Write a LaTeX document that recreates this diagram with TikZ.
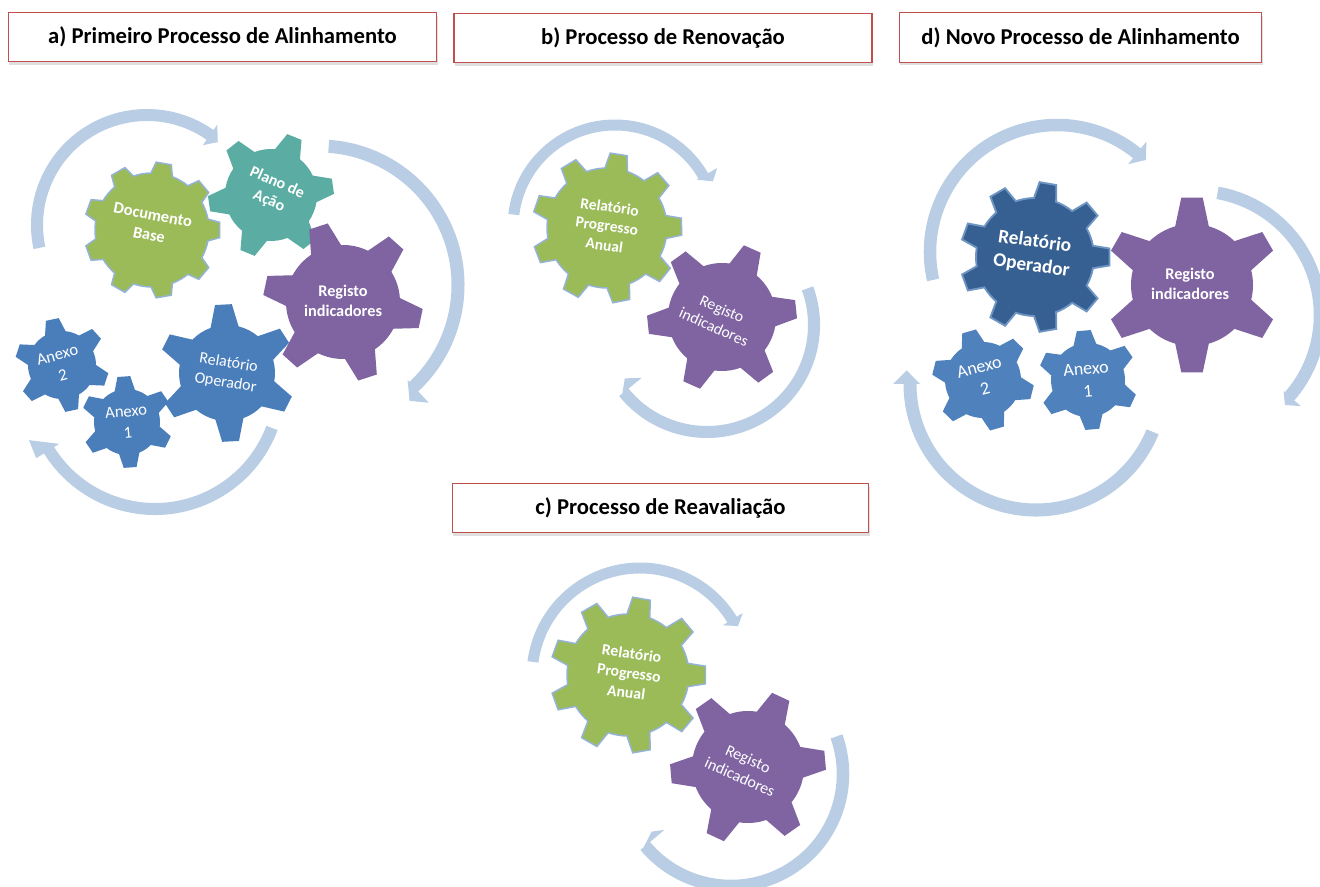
\documentclass[tikz,border=0pt]{standalone}
\usepackage{fontspec}
\setmainfont{Carlito}
\usetikzlibrary{shadows}
\definecolor{arcblue}{HTML}{B9CDE5}
\definecolor{gearGreen}{HTML}{9BBB59}
\definecolor{gearEdge}{HTML}{95B3D7}
\definecolor{gearTeal}{HTML}{5BADA3}
\definecolor{gearPurple}{HTML}{8064A2}
\definecolor{gearBlue}{HTML}{4A7EBB}
\definecolor{gearBlueB}{HTML}{4F81BD}
\definecolor{gearDark}{HTML}{376092}
\definecolor{gearDarkEdge}{HTML}{6F95C2}
\definecolor{titleEdge}{HTML}{C0504D}
% #1 style, #2 cx, #3 cy(px from top), #4 R, #5 r, #6 teeth, #7 rotation, #8 tip half angle, #9 root half angle
\newcommand{\gearshape}[9]{%
  \path[#1] ({#2+#5*cos(#7-#9)},{886-#3+#5*sin(#7-#9)})
  \foreach \k [evaluate=\k as \a using {#7+(\k-1)*360/#6}] in {1,...,#6}{
    -- ({#2+#4*cos(\a-#8)},{886-#3+#4*sin(\a-#8)})
    -- ({#2+#4*cos(\a+#8)},{886-#3+#4*sin(\a+#8)})
    -- ({#2+#5*cos(\a+#9)},{886-#3+#5*sin(\a+#9)})
    arc[start angle={\a+#9},end angle={\a+360/#6-#9},radius={#5*0.75pt}]
  } -- cycle;}
% #1 centre, #2 R, #3 w, #4 start, #5 end, #6 barb in, #7 barb out, #8 tip r, #9 tip angle
\newcommand{\carc}[9]{%
  \begin{scope}[shift={#1}]
  \fill[arcblue] ({#4}:{#2+#3/2}) arc[start angle=#4,end angle=#5,radius={(#2+#3/2)*0.75pt}]
    -- ({#5}:{#7}) -- ({#9}:{#8}) -- ({#5}:{#6}) -- ({#5}:{#2-#3/2})
    arc[start angle=#5,end angle=#4,radius={(#2-#3/2)*0.75pt}] -- cycle;
  \end{scope}}
\tikzset{
  titlebox/.style={draw=titleEdge,line width=0.9pt,fill=white,minimum height=37pt,inner sep=0pt,
    font=\fontsize{17pt}{20pt}\selectfont\bfseries,text=black,
    drop shadow={shadow xshift=0.5pt,shadow yshift=-2.5pt,opacity=0.25}},
  greenG/.style={fill=gearGreen,draw=gearEdge,line width=1.1pt},
  tealG/.style={fill=gearTeal},
  purpleG/.style={fill=gearPurple},
  blueG/.style={fill=gearBlue},
  blueB/.style={fill=gearBlueB},
  darkG/.style={fill=gearDark,draw=gearDarkEdge,line width=1.4pt},
  gtext/.style={text=white,align=center,inner sep=0pt},
  gbold/.style={gtext,font=\fontsize{#1}{\dimexpr#1*5/4\relax}\selectfont\bfseries},
  gnorm/.style={gtext,font=\fontsize{#1}{\dimexpr#1*5/4\relax}\selectfont},
}
\begin{document}
\begin{tikzpicture}[x=0.75pt,y=0.75pt]
\clip (0,0) rectangle (1320,886);
\fill[white] (0,0) rectangle (1320,886);
% titles
\node[titlebox,minimum width=321.5pt] (ta) at (222.5,886-37) {a) Primeiro Processo de Alinhamento};
\node[titlebox,minimum width=313.5pt] (tb) at (663,886-38) {b) Processo de Renovação};
\node[titlebox,minimum width=312.5pt] (tc) at (660.5,886-508) {c) Processo de Reavaliação};
\node[titlebox,minimum width=272pt] (td) at (1080.5,886-37.5) {d) Novo Processo de Alinhamento};
% arcs a
\carc{(147,886-225)}{110}{12}{192}{55}{97.5}{122.5}{109}{49.5}
\carc{(319,886-285)}{139}{13}{86}{-47}{130}{161}{147}{-52}
\carc{(155,886-384)}{125}{12}{-20.6}{-148}{113}{140}{138}{-156}
% arcs b
\carc{(615,886-227)}{102}{11}{173}{30}{94.5}{118}{108}{25}
\carc{(707,886-325)}{107}{12}{20}{-141}{84}{109}{98}{-147}
% arcs c
\carc{(640,886-676)}{108}{11}{172.5}{31.5}{97}{120.5}{110}{27}
\carc{(731,886-774)}{112}{12.5}{19.6}{-140}{87}{114}{98}{-144}
% arcs d
\carc{(1057,886-252)}{127}{12.5}{192.7}{51}{113}{142}{128}{46}
\carc{(1196,886-315)}{124}{12.5}{80}{-41}{116}{139}{126.5}{-45.3}
\carc{(1036,886-384)}{126}{13}{-22.3}{-180}{116}{143}{130}{-186}
% gears a
\gearshape{greenG}{152}{230}{68}{57}{9}{0}{6.5}{11}
\gearshape{tealG}{271}{195}{63}{46}{6}{8}{7}{17}
\gearshape{purpleG}{343}{302}{80}{57}{6}{-12}{7}{16}
\gearshape{blueG}{227}{373}{69}{48}{6}{33}{7}{17}
\gearshape{blueG}{62}{365}{47}{34}{6}{-18}{8}{18}
\gearshape{blueG}{127}{422}{46}{33}{6}{34}{8}{18}
\node[gbold=12.3pt,rotate=-11] (n1) at (151,886-225) {Documento\\Base};
\node[gbold=12pt,rotate=-24] (n2) at (273,886-192) {Plano de\\Ação};
\node[gbold=12.2pt,rotate=0] (n3) at (343,886-301) {Registo\\indicadores};
\node[gnorm=12pt,rotate=-9] (n4) at (227,886-373) {Relatório\\Operador};
\node[gnorm=12.5pt,rotate=15] (n5) at (60,886-365) {Anexo\\2};
\node[gnorm=12.5pt,rotate=5] (n6) at (127,886-422) {Anexo\\1};
% gears b
\gearshape{greenG}{607}{228}{75}{60}{9}{1}{6.5}{11}
\gearshape{purpleG}{722}{317}{75}{54}{6}{6}{7}{16}
\node[gbold=11.6pt,rotate=-8] (n7) at (607,886-226) {Relatório\\Progresso\\Anual};
\node[gnorm=11.8pt,rotate=-24] (n8) at (718,886-318) {Registo\\indicadores};
% gears c
\gearshape{greenG}{628}{675}{78}{61}{9}{0}{6.5}{11}
\gearshape{purpleG}{748}{767}{78}{56}{6}{5}{7}{16}
\node[gbold=11.8pt,rotate=-8] (n9) at (629,886-673) {Relatório\\Progresso\\Anual};
\node[gnorm=12pt,rotate=-24] (n10) at (744,886-768) {Registo\\indicadores};
% gears d
\gearshape{darkG}{1035}{257}{75}{59}{9}{0}{6.5}{11}
\gearshape{purpleG}{1192}{285}{88}{61}{6}{90}{7}{16}
\gearshape{blueB}{983}{380}{51}{38}{6}{-14}{8}{18}
\gearshape{blueB}{1088}{380}{50}{37}{6}{35}{8}{18}
\node[gbold=14.5pt,rotate=-8] (n11) at (1033,886-254) {Relatório\\Operador};
\node[gbold=12.2pt,rotate=0] (n12) at (1190,886-284) {Registo\\indicadores};
\node[gnorm=13.5pt,rotate=15] (n13) at (982,886-378) {Anexo\\2};
\node[gnorm=13.5pt,rotate=5] (n14) at (1087,886-380) {Anexo\\1};
\end{tikzpicture}
\end{document}
